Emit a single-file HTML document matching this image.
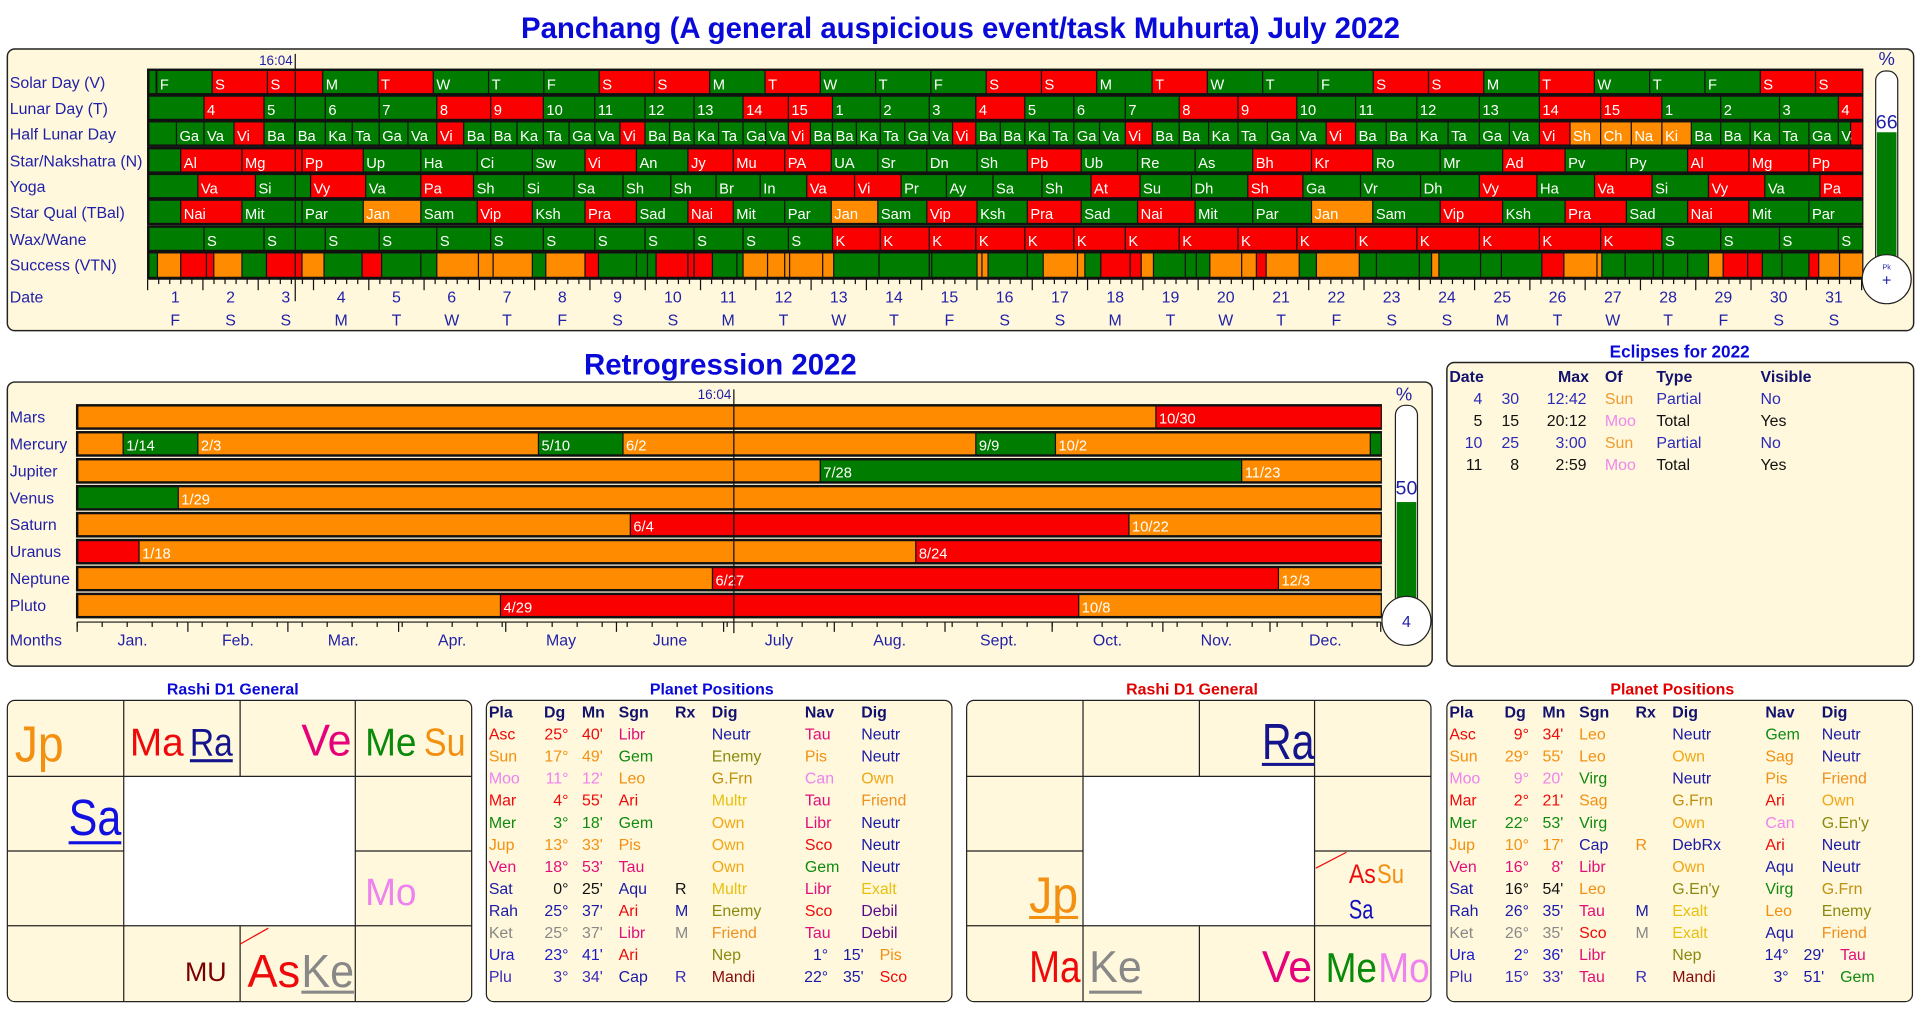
<!DOCTYPE html>
<html><head><meta charset="utf-8">
<style>
html,body{margin:0;padding:0;background:#fff;}
svg{display:block;font-family:"Liberation Sans",sans-serif;}
</style></head>
<body>
<svg id="s" xmlns="http://www.w3.org/2000/svg" width="1921" height="1009" viewBox="0 0 1568 824" preserveAspectRatio="none">
<rect x="0" y="0" width="1568" height="824" fill="#fff"/>
<text x="784" y="31" text-anchor="middle" font-size="24" font-weight="bold" fill="#0a0ad8">Panchang (A general auspicious event/task Muhurta)  July 2022</text>
<rect x="6" y="40" width="1556" height="230" rx="6" fill="#fff8dc" stroke="#222" stroke-width="1.2"/>
<text x="588" y="306" text-anchor="middle" font-size="24" font-weight="bold" fill="#0a0ad8">Retrogression 2022</text>
<rect x="6" y="312" width="1163" height="232" rx="6" fill="#fff8dc" stroke="#222" stroke-width="1.2"/>
<text x="1371" y="292" text-anchor="middle" font-size="14" font-weight="bold" fill="#0a0ad8">Eclipses for 2022</text>
<rect x="1181" y="296" width="381" height="248" rx="6" fill="#fff8dc" stroke="#222" stroke-width="1.2"/>
<g id="g"></g>
</svg>
<script>
var NS="http://www.w3.org/2000/svg",G=document.getElementById('g');
function el(t,a,txt){var e=document.createElementNS(NS,t);for(var k in a)e.setAttribute(k,a[k]);if(txt!==undefined)e.textContent=txt;G.appendChild(e);return e;}
function tx(x,y,s,size,fill,extra){var a={x:x,y:y,'font-size':size,fill:fill};if(extra)for(var k in extra)a[k]=extra[k];return el('text',a,s);}
var GR="#007c00",RD="#fa0000",OR="#ff8c00",C={g:GR,r:RD,o:OR};
var LBL="#1f1fa8";
function row(y,h,segs,x0,x1){
  el('rect',{x:x0-1,y:y-2,width:x1-x0+2,height:h+4,fill:"#111"});
  segs.forEach(function(s){
    var w=s[1]-s[0];if(w<=0)return;
    el('rect',{x:s[0]+1,y:y,width:w-1,height:h,fill:s[2]});
    if(s[3]&&w>6)tx(s[0]+3,y+h-3,s[3],12,"#fff");
  });
}
var X0=120.5,W=45.13,XE=1520;
var labels=["Solar Day (V)","Lunar Day (T)","Half Lunar Day","Star/Nakshatra (N)","Yoga","Star Qual (TBal)","Wax/Wane","Success (VTN)"];
var RY=[58,79,100,122,143,164,186,207];
labels.forEach(function(l,i){tx(8,RY[i]+14,l,13,LBL);});
var wd=['F','S','S','M','T','W','T'],segs=[[121,127,GR,'']];
for(var i=0;i<31;i++){var a=X0+W*i+7,b=(i==30)?XE:X0+W*(i+1)+7;var k=i%7;segs.push([a,b,(k==1||k==2||k==4)?RD:GR,wd[k]]);}
row(RY[0],18,segs,121,XE);
var L=[121,166,215,265,309,356,400,443,485,526,566,606,643,679,718,758,796,836,876,918,962,1010,1058,1106,1156,1207,1256,1306,1356,1404,1452,1500,1520];
var tl=[''];for(i=4;i<=15;i++)tl.push(''+i);for(i=1;i<=15;i++)tl.push(''+i);for(i=1;i<=4;i++)tl.push(''+i);
segs=[];for(i=0;i<32;i++){var t=tl[i];var red=(t=='4'||t=='8'||t=='9'||t=='14'||t=='15');segs.push([L[i],L[i+1],red?RD:GR,t]);}
row(RY[1],18,segs,121,XE);
var cyc=['Ba','Ba','Ka','Ta','Ga','Va','Vi'];segs=[];
for(i=0;i<32;i++){var m=(L[i]+L[i+1])/2;for(var p=0;p<2;p++){var h=2*i+p;var a=p?m:L[i],b=p?L[i+1]:m;var lab,col;
 if(h==0){lab='';}else if(h<=52){lab=cyc[(h+3)%7];}else if(h<=56){lab=['Sh','Ch','Na','Ki'][h-53];}else{lab=cyc[(h-57)%7];}
 col=lab=='Vi'?RD:((lab=='Sh'||lab=='Ch'||lab=='Na'||lab=='Ki')?OR:GR);
 if(h==63)lab='';
 segs.push([a,b,col,lab]);}}
row(RY[2],18,segs,121,XE);
var N=[121,147,197,246,296,343,389,434,477,519,561,598,640,678,716,756,797,838,882,928,975,1022,1070,1120,1175,1226,1277,1327,1377,1427,1476,1520];
var nl=['','Al','Mg','Pp','Up','Ha','Ci','Sw','Vi','An','Jy','Mu','PA','UA','Sr','Dn','Sh','Pb','Ub','Re','As','Bh','Kr','Ro','Mr','Ad','Pv','Py','Al','Mg','Pp'];
var nred={Al:1,Mg:1,Pp:1,Vi:1,Jy:1,Mu:1,PA:1,Pb:1,Bh:1,Kr:1,Ad:1};
segs=[];for(i=0;i<31;i++)segs.push([N[i],N[i+1],nred[nl[i]]?RD:GR,nl[i]]);
row(RY[3],18,segs,121,XE);
var Y=[121,161,208,253,298,343,386,427,468,508,547,584,620,658,697,735,772,810,850,890,930,972,1018,1063,1110,1159,1207,1254,1301,1348,1394,1440,1485,1520];
var yl=['','Va','Si','Vy','Va','Pa','Sh','Si','Sa','Sh','Sh','Br','In','Va','Vi','Pr','Ay','Sa','Sh','At','Su','Dh','Sh','Ga','Vr','Dh','Vy','Ha','Va','Si','Vy','Va','Pa'];
var yr=[1,3,5,13,14,19,22,26,28,30,32];
segs=[];for(i=0;i<33;i++)segs.push([Y[i],Y[i+1],yr.indexOf(i)>=0?RD:GR,yl[i]]);
row(RY[4],18,segs,121,XE);
var ql=['Nai','Mit','Par','Jan','Sam','Vip','Ksh','Pra','Sad'],qc=[RD,GR,GR,OR,GR,RD,GR,RD,GR];
segs=[[N[0],N[1],GR,'']];for(i=1;i<31;i++)segs.push([N[i],N[i+1],qc[(i-1)%9],ql[(i-1)%9]]);
row(RY[5],18,segs,121,XE);
segs=[];for(i=0;i<32;i++){var lab=i==0?'':(i<=12||i>=28)?'S':'K';segs.push([L[i],L[i+1],lab=='K'?RD:GR,lab]);}
row(RY[6],18,segs,121,XE);
var sc=[[121,128,'g'],[128,147,'o'],[147,168,'r'],[168,174,'r'],[174,197,'o'],[197,217,'g'],[217,246,'r'],[246,264,'o'],[264,295,'g'],[295,311,'r'],[311,343,'g'],[343,356,'g'],[356,390,'o'],[390,402,'o'],[402,434,'o'],[434,445,'g'],[445,477,'o'],[477,488,'r'],[488,519,'g'],[519,528,'g'],[528,535,'g'],[535,561,'r'],[561,566,'r'],[566,581,'r'],[581,601,'g'],[601,606,'g'],[606,626,'o'],[626,640,'o'],[640,644,'o'],[644,671,'o'],[671,680,'o'],[680,717,'g'],[717,758,'g'],[758,760,'g'],[760,797,'g'],[797,801,'o'],[801,806,'o'],[806,838,'g'],[838,851,'g'],[851,879,'o'],[879,885,'o'],[885,898,'g'],[898,922,'r'],[922,931,'r'],[931,941,'o'],[941,967,'g'],[967,976,'g'],[976,987,'g'],[987,1013,'o'],[1013,1025,'o'],[1025,1033,'r'],[1033,1060,'o'],[1060,1074,'g'],[1074,1109,'o'],[1109,1123,'g'],[1123,1158,'g'],[1158,1168,'g'],[1168,1174,'o'],[1174,1208,'g'],[1208,1225,'g'],[1225,1258,'g'],[1258,1276,'r'],[1276,1303,'o'],[1303,1307,'o'],[1307,1326,'g'],[1326,1349,'g'],[1349,1357,'g'],[1357,1377,'g'],[1377,1394,'g'],[1394,1406,'o'],[1406,1426,'r'],[1426,1438,'r'],[1438,1454,'g'],[1454,1476,'g'],[1476,1484,'r'],[1484,1501,'o'],[1501,1520,'o']];
row(RY[7],19,sc.map(function(s){return [s[0],s[1],C[s[2]],''];}),121,XE);
el('line',{x1:121,y1:228,x2:XE,y2:228,stroke:"#111","stroke-width":1});
for(i=0;i<=31*5;i++){var x=X0+W*i/5;if(x>XE)break;var lg=i%5==0;el('line',{x1:x,y1:228,x2:x,y2:lg?237:232,stroke:"#111","stroke-width":1});}
tx(8,247,"Date",13,LBL);
for(i=0;i<31;i++){var cx=X0+W*(i+0.5);tx(cx,247,''+(i+1),13,LBL,{'text-anchor':'middle'});tx(cx,266,wd[i%7],13,LBL,{'text-anchor':'middle'});}
el('line',{x1:241,y1:44,x2:241,y2:246,stroke:"#111","stroke-width":1});
tx(239,53,"16:04",11,LBL,{'text-anchor':'end'});
tx(1540,53,"%",15,LBL,{'text-anchor':'middle'});
el('rect',{x:1531,y:58,width:18,height:165,rx:8,fill:"#fff",stroke:"#222"});
el('rect',{x:1532,y:108,width:16,height:114,fill:GR});
tx(1540,105,"66",16,LBL,{'text-anchor':'middle'});
el('circle',{cx:1540,cy:228,r:20,fill:"#fff",stroke:"#222"});
tx(1540,220,"Pk",6,LBL,{'text-anchor':'middle'});
tx(1540,233,"+",13,LBL,{'text-anchor':'middle'});
var rn=["Mars","Mercury","Jupiter","Venus","Saturn","Uranus","Neptune","Pluto"];
var rb=[
 [[63,943,'o',''],[943,1127,'r','10/30']],
 [[63,100,'o',''],[100,161,'g','1/14'],[161,439,'o','2/3'],[439,508,'g','5/10'],[508,796,'o','6/2'],[796,861,'g','9/9'],[861,1118,'o','10/2'],[1118,1127,'g','']],
 [[63,669,'o',''],[669,1013,'g','7/28'],[1013,1127,'o','11/23']],
 [[63,145,'g',''],[145,1127,'o','1/29']],
 [[63,514,'o',''],[514,921,'r','6/4'],[921,1127,'o','10/22']],
 [[63,113,'r',''],[113,747,'o','1/18'],[747,1127,'r','8/24']],
 [[63,581,'o',''],[581,1043,'r','6/27'],[1043,1127,'o','12/3']],
 [[63,408,'o',''],[408,880,'r','4/29'],[880,1127,'o','10/8']]];
for(i=0;i<8;i++){var y=332+22*i;tx(8,y+13,rn[i],13,LBL);row(y,17,rb[i].map(function(s){return [s[0],s[1],C[s[2]],s[3]];}),63,1127);}
el('line',{x1:63,y1:508,x2:1127,y2:508,stroke:"#111"});
var md=[0,31,59,90,120,151,181,212,243,273,304,334,365],mn=["Jan.","Feb.","Mar.","Apr.","May","June","July","Aug.","Sept.","Oct.","Nov.","Dec."],dw=1064/365;
for(i=0;i<=365;i+=7){var x=63+i*dw;el('line',{x1:x,y1:508,x2:x,y2:512,stroke:"#111"});}
for(i=0;i<13;i++){var x=63+md[i]*dw;el('line',{x1:x,y1:508,x2:x,y2:516,stroke:"#111"});if(i<12)tx(63+(md[i]+md[i+1])/2*dw,527,mn[i],13,LBL,{'text-anchor':'middle'});}
tx(8,527,"Months",13,LBL);
el('line',{x1:599,y1:318,x2:599,y2:517,stroke:"#111"});
tx(597,326,"16:04",11,LBL,{'text-anchor':'end'});
tx(1146,327,"%",15,LBL,{'text-anchor':'middle'});
el('rect',{x:1139,y:331,width:18,height:170,rx:8,fill:"#fff",stroke:"#222"});
el('rect',{x:1140,y:410,width:16,height:90,fill:GR});
tx(1148,404,"50",16,LBL,{'text-anchor':'middle'});
el('circle',{cx:1148,cy:507,r:20,fill:"#fff",stroke:"#222"});
tx(1148,512,"4",13,LBL,{'text-anchor':'middle'});
var NV="#12126e",BL="#2a2ab8",BK="#111",SU="#f09a30",MO="#ee88ee";
[["Date",1183,'start'],["Max",1297,'end'],["Of",1310,'start'],["Type",1352,'start'],["Visible",1437,'start']].forEach(function(h){tx(h[1],312,h[0],13,NV,{'font-weight':'bold','text-anchor':h[2]});});
var ec=[["4","30","12:42","Sun","Partial","No",BL,SU],["5","15","20:12","Moo","Total","Yes",BK,MO],["10","25","3:00","Sun","Partial","No",BL,SU],["11","8","2:59","Moo","Total","Yes",BK,MO]];
ec.forEach(function(r,i){var y=330+18*i;tx(1210,y,r[0],13,r[6],{'text-anchor':'end'});tx(1240,y,r[1],13,r[6],{'text-anchor':'end'});tx(1295,y,r[2],13,r[6],{'text-anchor':'end'});tx(1310,y,r[3],13,r[7]);tx(1352,y,r[4],13,r[6]);tx(1437,y,r[5],13,r[6]);});
function chart(ox,title,tcol){
  tx(ox+190,567,title,13,tcol,{'font-weight':'bold','text-anchor':'middle'});
  el('rect',{x:ox+6,y:572,width:379,height:246,rx:6,fill:"#fff8dc",stroke:"#222"});
  el('rect',{x:ox+101,y:634,width:189,height:122,fill:"#fff"});
  var L1=[[101,572,101,818],[290,572,290,818],[196,572,196,634],[196,756,196,818],[6,634,385,634],[6,756,385,756],[6,695,101,695],[290,695,385,695]];
  L1.forEach(function(l){el('line',{x1:ox+l[0],y1:l[1],x2:ox+l[2],y2:l[3],stroke:"#222"});});
}
function big(x,y,s,size,col,len,ul){tx(x,y,s,size,col,{textLength:len,lengthAdjust:'spacingAndGlyphs'});if(ul)el('rect',{x:x,y:y+ul,width:len,height:2.5,fill:col});}
chart(0,"Rashi D1 General","#0a0ad8");
var OJ="#f39012",RR="#ee0a0a",PK="#e6007a",VI="#ee82ee",NVY="#14148c",GY="#888";
big(12,622,"Jp",42,OJ,40);
big(106,617,"Ma",32,RR,44);big(155,617,"Ra",32,NVY,35,3);
big(246,617,"Ve",36,PK,41);big(298,617,"Me",32,"#0a8a0a",42);big(346,617,"Su",32,OJ,34);
big(56,682,"Sa",42,"#1010e0",43,5);
big(298,739,"Mo",31,VI,42);
big(151,801,"MU",22,"#7a0000",34);
el('line',{x1:196,y1:771,x2:219,y2:758,stroke:RR});
big(202,806,"As",38,RR,43);big(246,806,"Ke",38,GY,43,3);
chart(783,"Rashi D1 General","#e00000");
big(1030,620,"Ra",42,NVY,43,3);
big(840,745,"Jp",42,OJ,40,3);
el('line',{x1:1074,y1:709,x2:1099,y2:696,stroke:RR});
big(1101,721,"As",22,RR,22);big(1124,721,"Su",22,OJ,22);
big(1101,750,"Sa",22,"#1010c0",20);
big(840,802,"Ma",36,RR,42);big(889,802,"Ke",36,GY,43,7);
big(1030,802,"Ve",36,PK,41);big(1082,802,"Me",34,"#0a8a0a",42);big(1125,802,"Mo",34,VI,42);
var cR="#ee0a0a",cO="#f39012",cV="#ee82ee",cG="#108a10",cP="#e0107a",cN="#1a1aa8",cK="#888",cB="#1a1ac8",cBk="#111",cOl="#8a8a10",cY="#e8c010",cOw="#f0a818",cF="#f09020",cD="#5a0a8a",cM="#8a0a0a";
var sg={Libr:cP,Gem:cG,Leo:cO,Ari:cR,Pis:cO,Tau:cP,Aqu:cN,Cap:cN,Sag:cO,Virg:cG,Sco:cR,Can:cV};
var dg={Neutr:cN,Enemy:cOl,'G.Frn':"#c09010",Multr:cY,Own:cOw,Friend:cF,Exalt:cY,Debil:cD,DebRx:cN,Nep:cOl,Mandi:cM,"G.En'y":cOl};
var pc={Asc:cR,Sun:cO,Moo:cV,Mar:cR,Mer:cG,Jup:cO,Ven:cP,Sat:cN,Rah:cN,Ket:cK,Ura:cB,Plu:"#3a2ab8"};
function table(ox,title,tcol,rows){
  tx(ox+190,567,title,13,tcol,{'font-weight':'bold','text-anchor':'middle'});
  el('rect',{x:ox+6,y:572,width:380,height:246,rx:6,fill:"#fff8dc",stroke:"#222"});
  [["Pla",8],["Dg",53],["Mn",84],["Sgn",114],["Rx",160],["Dig",190],["Nav",266],["Dig",312]].forEach(function(h){tx(ox+h[1],586,h[0],13,NV,{'font-weight':'bold'});});
  rows.forEach(function(r,i){var y=604+18*i,c=pc[r[0]];
    tx(ox+8,y,r[0],13,c);
    var dc=r[0]=='Sat'?cBk:c;
    tx(ox+73,y,r[1]+"°",13,dc,{'text-anchor':'end'});tx(ox+101,y,r[2]+"'",13,dc,{'text-anchor':'end'});
    tx(ox+114,y,r[3],13,sg[r[3]]);
    if(r[4])tx(ox+160,y,r[4],13,r[4]=='R'?(r[0]=='Sat'?cBk:c):(r[0]=='Ket'?cK:cN));
    tx(ox+190,y,r[5],13,dg[r[5]]);
    if(r[8]){tx(ox+285,y,r[6]+"°",13,cN,{'text-anchor':'end'});tx(ox+314,y,r[7]+"'",13,cN,{'text-anchor':'end'});tx(ox+327,y,r[8],13,sg[r[8]]||cG);}
    else{tx(ox+266,y,r[6],13,sg[r[6]]);tx(ox+312,y,r[7],13,dg[r[7]]);}
  });
}
table(391,"Planet Positions","#0a0ad8",[
 ["Asc","25","40","Libr","","Neutr","Tau","Neutr"],["Sun","17","49","Gem","","Enemy","Pis","Neutr"],["Moo","11","12","Leo","","G.Frn","Can","Own"],["Mar","4","55","Ari","","Multr","Tau","Friend"],["Mer","3","18","Gem","","Own","Libr","Neutr"],["Jup","13","33","Pis","","Own","Sco","Neutr"],["Ven","18","53","Tau","","Own","Gem","Neutr"],["Sat","0","25","Aqu","R","Multr","Libr","Exalt"],["Rah","25","37","Ari","M","Enemy","Sco","Debil"],["Ket","25","37","Libr","M","Friend","Tau","Debil"],["Ura","23","41","Ari","","Nep","1","15","Pis"],["Plu","3","34","Cap","R","Mandi","22","35","Sco"]]);
table(1175,"Planet Positions","#e00000",[
 ["Asc","9","34","Leo","","Neutr","Gem","Neutr"],["Sun","29","55","Leo","","Own","Sag","Neutr"],["Moo","9","20","Virg","","Neutr","Pis","Friend"],["Mar","2","21","Sag","","G.Frn","Ari","Own"],["Mer","22","53","Virg","","Own","Can","G.En'y"],["Jup","10","17","Cap","R","DebRx","Ari","Neutr"],["Ven","16","8","Libr","","Own","Aqu","Neutr"],["Sat","16","54","Leo","","G.En'y","Virg","G.Frn"],["Rah","26","35","Tau","M","Exalt","Leo","Enemy"],["Ket","26","35","Sco","M","Exalt","Aqu","Friend"],["Ura","2","36","Libr","","Nep","14","29","Tau"],["Plu","15","33","Tau","R","Mandi","3","51","Gem"]]);
</script>
</body></html>
